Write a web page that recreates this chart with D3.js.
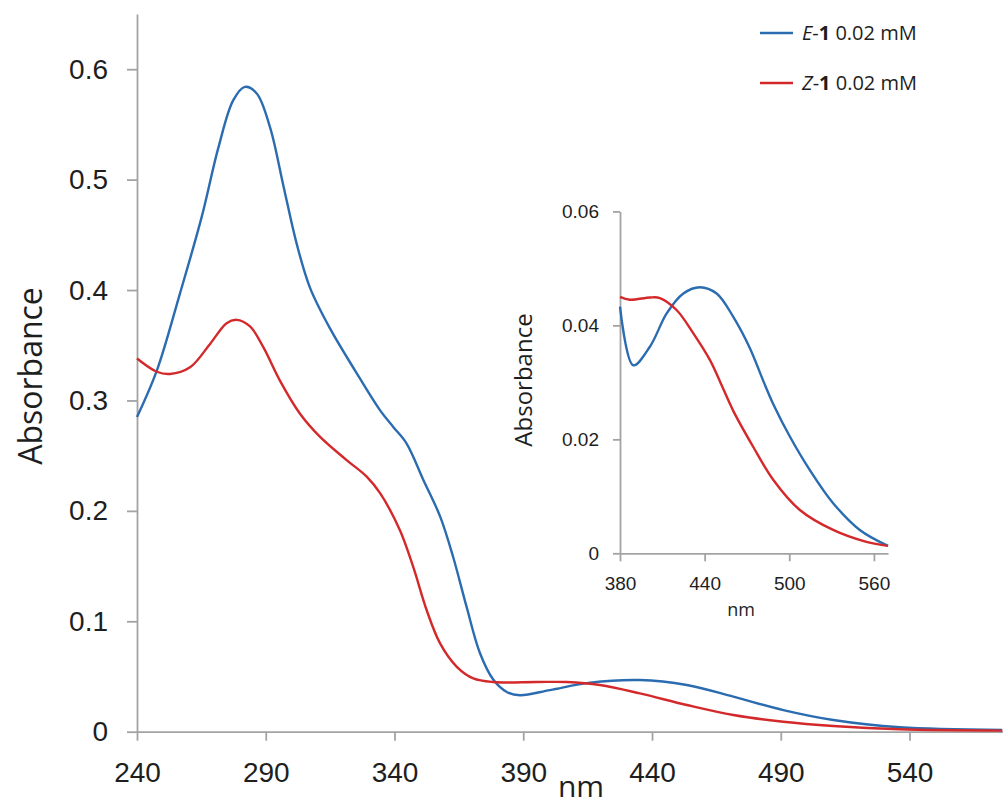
<!DOCTYPE html>
<html>
<head>
<meta charset="utf-8">
<script src="https://cdn.jsdelivr.net/npm/d3@7"></script>
<style>
  body { margin: 0; background: #fff; }
  svg { display: block; font-family: "Open Sans", sans-serif; }
  .axis path, .axis line { stroke: #a3a3a3; stroke-width: 1.8; }
  .axis text { fill: #1e1e1e; }
</style>
</head>
<body>
<div id="chart"></div>
<script>
const width = 1003,
  height = 807

// main spectrum, E-1 (blue)
const eNm  = [240, 247.7, 256.7, 265.1, 271.6, 277.4, 281.9, 286.5, 291.7, 296.8, 302, 307.2, 315, 324.7, 334.4, 339.5, 344.7, 351.2, 357.7, 362.8, 368, 373.2, 378.4, 383.6, 388.7, 400.4, 415.9, 435.3, 453.5, 471.6, 491, 510.4, 536.3, 576]
const eAbs = [0.285, 0.327, 0.397, 0.466, 0.529, 0.572, 0.584, 0.578, 0.547, 0.495, 0.442, 0.402, 0.365, 0.327, 0.291, 0.276, 0.261, 0.228, 0.195, 0.158, 0.113, 0.071, 0.047, 0.036, 0.033, 0.0377, 0.0444, 0.0468, 0.0423, 0.0317, 0.0196, 0.0106, 0.004, 0.0015]
// main spectrum, Z-1 (red)
const zNm  = [240, 247.7, 252.8, 260.6, 268.3, 274.8, 278.7, 283.9, 289.1, 295.5, 303.3, 311.1, 321.4, 329.2, 334.4, 342.1, 347.3, 352.5, 357.7, 364.2, 370.6, 378.4, 395, 406.9, 419.8, 435.3, 453.5, 471.6, 491, 510.4, 536.3, 576]
const zAbs = [0.338, 0.326, 0.324, 0.330, 0.351, 0.370, 0.373, 0.367, 0.348, 0.318, 0.288, 0.267, 0.246, 0.231, 0.216, 0.1825, 0.149, 0.110, 0.080, 0.0588, 0.0483, 0.045, 0.045, 0.045, 0.0423, 0.0347, 0.0242, 0.0151, 0.009, 0.0052, 0.0022, 0.001]

// inset (visible region 380-570 nm)
const insetENm  = [380, 389.4, 401.3, 413.1, 424.9, 436.7, 448.5, 460.3, 472.1, 481.5, 488.6, 500.4, 514.6, 531.1, 550, 570]
const insetEAbs = [0.0433, 0.0330, 0.0363, 0.0421, 0.0456, 0.0467, 0.0456, 0.0415, 0.0360, 0.0303, 0.0262, 0.0205, 0.0146, 0.0088, 0.0041, 0.0013]
const insetZNm  = [380, 387, 401.3, 408.3, 420.1, 432, 443.8, 450.8, 460.3, 474.4, 488.6, 507.5, 531.1, 554.7, 570]
const insetZAbs = [0.0450, 0.0445, 0.0449, 0.0448, 0.0427, 0.0386, 0.0339, 0.0302, 0.0250, 0.0187, 0.0129, 0.0076, 0.0041, 0.0020, 0.0013]

const xTicks = [240, 290, 340, 390, 440, 490, 540]
const yTicks = [0, 0.1, 0.2, 0.3, 0.4, 0.5, 0.6]
const insetXTicks = [380, 440, 500, 560]
const insetYTicks = [0, 0.02, 0.04, 0.06]

const series = [
  { name: "E", color: "#2b6cb0" },
  { name: "Z", color: "#d4292b" }
]

const zip = (xs, ys) => xs.map((x, i) => [x, ys[i]])

const svg = d3.select("#chart")
  .append("svg")
  .attr("width", width)
  .attr("height", height)

svg.append("rect").attr("width", width).attr("height", height).attr("fill", "#fff")

// ---------- main chart ----------
const x = d3.scaleLinear().domain([240, 576.3]).range([137, 1003])
const y = d3.scaleLinear().domain([0, 0.65]).range([731.7, 14])

const line = d3.line()
  .x(d => x(d[0]))
  .y(d => y(d[1]))
  .curve(d3.curveCatmullRom.alpha(0.5))

svg.append("g")
  .attr("class", "axis")
  .attr("transform", `translate(0,${y(0)})`)
  .call(d3.axisBottom(x).tickValues(xTicks).tickSize(9).tickSizeOuter(0).tickPadding(21))
  .selectAll("text")
  .attr("font-size", 28)

svg.append("g")
  .attr("class", "axis")
  .attr("transform", `translate(${x(240)},0)`)
  .call(d3.axisLeft(y).tickValues(yTicks).tickSize(10).tickSizeOuter(0).tickPadding(19)
    .tickFormat(d => d === 0 ? "0" : d3.format(".1f")(d)))
  .selectAll("text")
  .attr("font-size", 28)

svg.append("path")
  .datum(zip(eNm, eAbs))
  .attr("d", line)
  .attr("fill", "none")
  .attr("stroke", series[0].color)
  .attr("stroke-width", 2.4)

svg.append("path")
  .datum(zip(zNm, zAbs))
  .attr("d", line)
  .attr("fill", "none")
  .attr("stroke", series[1].color)
  .attr("stroke-width", 2.4)

svg.append("text")
  .attr("transform", "translate(42,376) rotate(-90)")
  .attr("text-anchor", "middle")
  .attr("font-size", 32)
  .attr("fill", "#1e1e1e")
  .text("Absorbance")

svg.append("text")
  .attr("x", 581)
  .attr("y", 797)
  .attr("text-anchor", "middle")
  .attr("font-size", 30)
  .attr("fill", "#1e1e1e")
  .text("nm")

// legend
const legend = svg.append("g")
const legendY = [33, 83]
series.forEach((s, i) => {
  legend.append("line")
    .attr("x1", 760).attr("x2", 793)
    .attr("y1", legendY[i]).attr("y2", legendY[i])
    .attr("stroke", s.color)
    .attr("stroke-width", 2.4)
  const t = legend.append("text")
    .attr("x", 802)
    .attr("y", legendY[i] + 7)
    .attr("font-size", 20)
    .attr("fill", "#1e1e1e")
  t.append("tspan").attr("font-style", "italic").text(s.name)
  t.append("tspan").text("-")
  t.append("tspan").attr("font-weight", "bold").text("1")
  t.append("tspan").text(" 0.02 mM")
})

// ---------- inset ----------
const ix = d3.scaleLinear().domain([380, 570]).range([620, 888])
const iy = d3.scaleLinear().domain([0, 0.06]).range([553.3, 211.4])

const iline = d3.line()
  .x(d => ix(d[0]))
  .y(d => iy(d[1]))
  .curve(d3.curveCatmullRom.alpha(0.5))

svg.append("g")
  .attr("class", "axis")
  .attr("transform", `translate(0,${iy(0)})`)
  .call(d3.axisBottom(ix).tickValues(insetXTicks).tickSize(8).tickSizeOuter(0).tickPadding(15))
  .selectAll("text")
  .attr("font-size", 19)

svg.append("g")
  .attr("class", "axis")
  .attr("transform", `translate(${ix(380)},0)`)
  .call(d3.axisLeft(iy).tickValues(insetYTicks).tickSize(7).tickSizeOuter(0).tickPadding(14)
    .tickFormat(d => d === 0 ? "0" : d3.format(".2f")(d)))
  .selectAll("text")
  .attr("font-size", 19)

svg.append("path")
  .datum(zip(insetENm, insetEAbs))
  .attr("d", iline)
  .attr("fill", "none")
  .attr("stroke", series[0].color)
  .attr("stroke-width", 2.4)

svg.append("path")
  .datum(zip(insetZNm, insetZAbs))
  .attr("d", iline)
  .attr("fill", "none")
  .attr("stroke", series[1].color)
  .attr("stroke-width", 2.4)

svg.append("text")
  .attr("transform", "translate(532,380) rotate(-90)")
  .attr("text-anchor", "middle")
  .attr("font-size", 24)
  .attr("fill", "#1e1e1e")
  .text("Absorbance")

svg.append("text")
  .attr("x", 741)
  .attr("y", 616)
  .attr("text-anchor", "middle")
  .attr("font-size", 18)
  .attr("fill", "#1e1e1e")
  .text("nm")
</script>
</body>
</html>
